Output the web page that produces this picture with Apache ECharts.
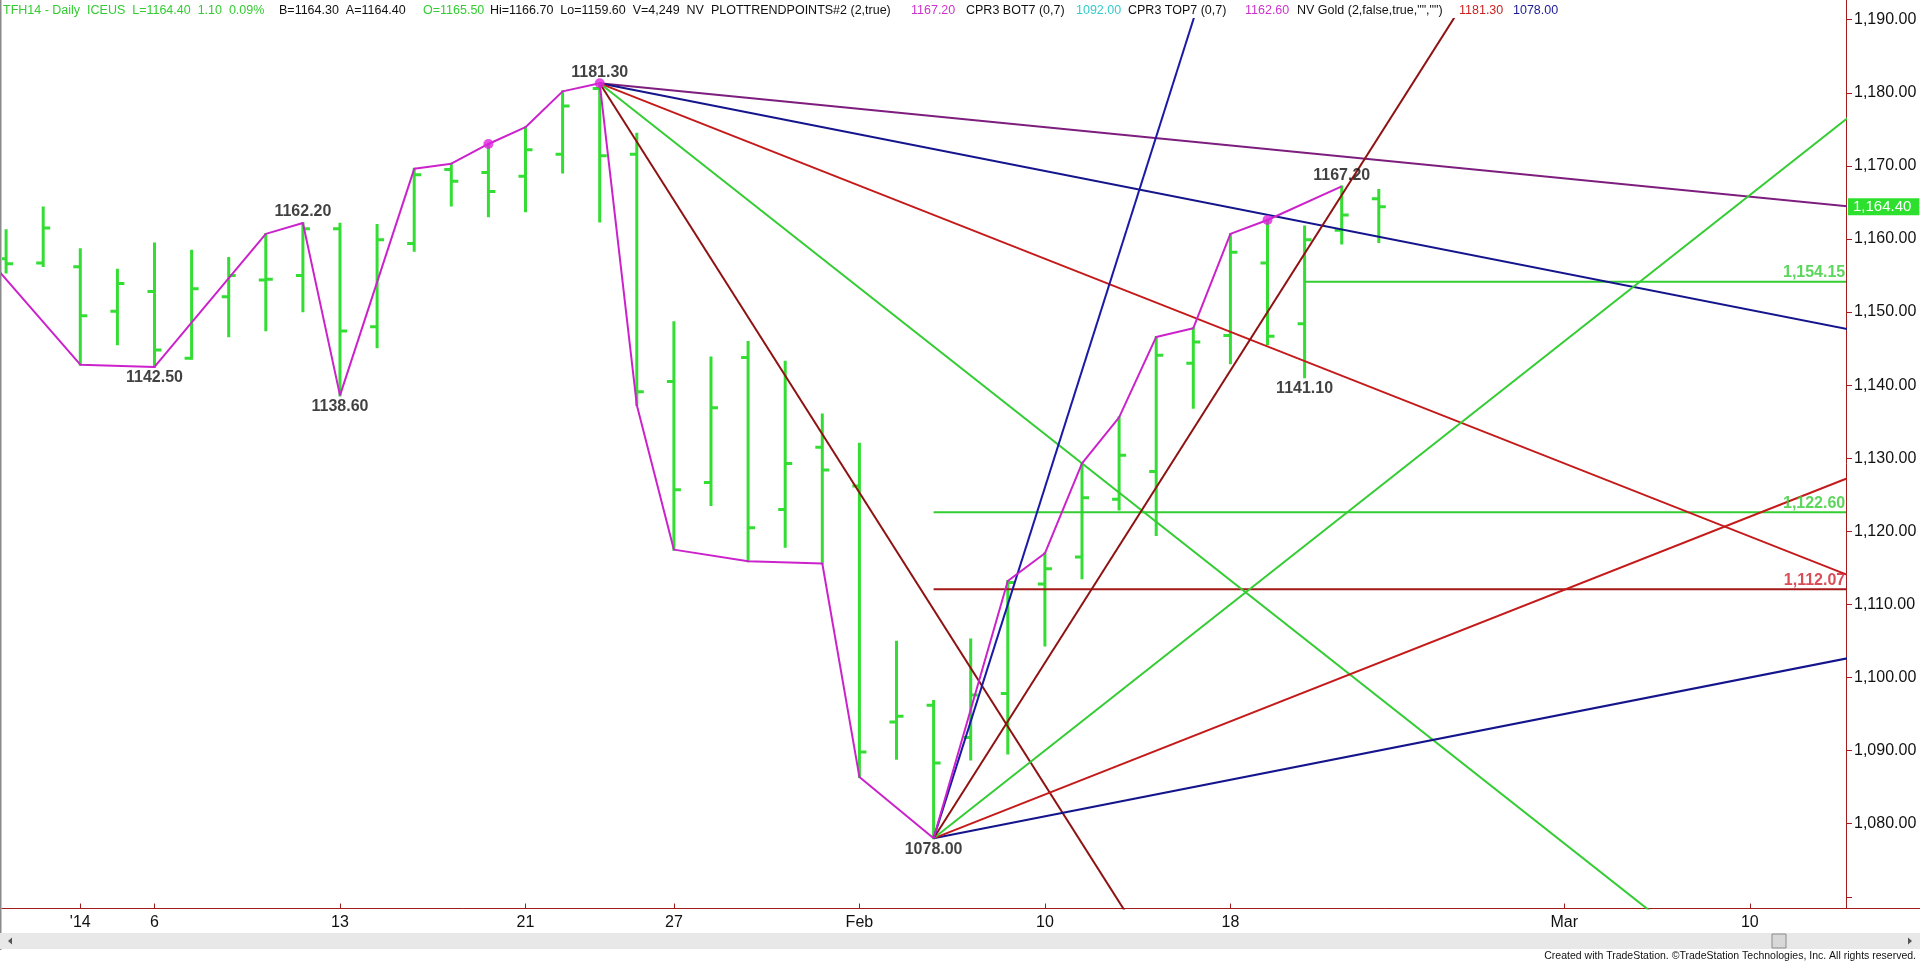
<!DOCTYPE html>
<html>
<head>
<meta charset="utf-8">
<script src="https://cdn.jsdelivr.net/npm/echarts@6/dist/echarts.min.js"></script>
<style>
html,body{margin:0;padding:0;background:#fff;}
#c{width:1920px;height:964px;}
</style>
</head>
<body>
<div id="c"></div>
<script>
// ---------------- DATA ----------------
const dates = ['Dec 30','Dec 31','Jan 2','Jan 3','Jan 6','Jan 7','Jan 8','Jan 9','Jan 10','Jan 13',
  'Jan 14','Jan 15','Jan 16','Jan 17','Jan 21','Jan 22','Jan 23','Jan 24','Jan 27','Jan 28',
  'Jan 29','Jan 30','Jan 31','Feb 3','Feb 4','Feb 5','Feb 6','Feb 7','Feb 10','Feb 11',
  'Feb 12','Feb 13','Feb 14','Feb 18','Feb 19','Feb 20','Feb 21','Feb 24'];
const opens  = [1157.3,1156.7,1156.2,1150.1,1152.8,1143.7,1152.1,1154.4,1155.0,1161.4,
  1148.0,1159.4,1169.5,1169.1,1168.6,1171.6,1180.6,1171.6,1140.5,1126.7,
  1143.8,1123.0,1131.5,1126.2,1093.9,1096.2,1091.8,1097.8,1112.8,1116.5,
  1124.4,1128.2,1143.0,1146.8,1156.7,1148.4,1161.2,1165.5];
const highs  = [1161.2,1164.3,1158.6,1155.8,1159.4,1158.4,1157.4,1160.7,1162.2,1162.1,
  1161.9,1169.6,1170.3,1173.0,1175.3,1180.2,1181.3,1174.4,1148.6,1143.8,
  1145.9,1143.2,1136.0,1132.0,1104.9,1096.8,1105.2,1113.2,1117.0,1129.3,
  1135.6,1146.6,1147.8,1160.7,1162.6,1161.7,1167.2,1166.7];
const lows   = [1155.4,1156.3,1142.8,1145.6,1142.5,1143.6,1146.7,1147.5,1150.1,1138.6,
  1145.2,1158.4,1164.6,1163.1,1163.8,1169.1,1162.4,1137.3,1117.5,1123.6,
  1115.9,1117.9,1115.6,1086.4,1088.9,1078.0,1088.8,1089.6,1104.4,1113.6,
  1123.0,1119.5,1136.9,1143.0,1145.6,1141.1,1159.4,1159.6];
const closes = [1156.6,1161.5,1149.5,1153.9,1144.8,1153.2,1155.0,1154.5,1161.4,1147.4,
  1159.9,1168.8,1167.9,1166.5,1172.2,1178.2,1171.4,1139.1,1125.7,1136.9,
  1120.5,1129.3,1128.4,1089.8,1094.7,1088.3,1097.6,1113.0,1114.9,1124.6,
  1130.4,1144.1,1145.9,1158.2,1146.7,1159.9,1163.3,1164.4];

// x-axis tick labels (trading-day index -> label)
const xTickIdx    = [2, 4, 9, 14, 18, 23, 28, 33, 42, 47];
const xTickLabels = ["'14", '6', '13', '21', '27', 'Feb', '10', '18', 'Mar', '10'];
// y-axis ticks / labels
const yTickValues  = [1070,1080,1090,1100,1110,1120,1130,1140,1150,1160,1170,1180,1190];
const yLabelValues = [1080,1090,1100,1110,1120,1130,1140,1150,1160,1170,1180,1190];

// swing line (NV Gold) vertices
const swingIdx = [-1, 2, 4, 7, 8, 9, 11, 12, 13, 14, 15, 16, 17, 18, 20, 22, 23, 25, 27, 28, 29, 30, 31, 32, 33, 34, 36];
const swingVal = [1160.3,1142.8,1142.5,1160.7,1162.2,1138.6,1169.6,1170.3,1173.0,1175.3,1180.2,1181.3,1137.3,1117.5,
  1115.9,1115.6,1086.4,1078.0,1113.2,1117.0,1129.3,1135.6,1146.6,1147.8,1160.7,1162.6,1167.2];
// CPR pivot dots
const dotIdx = [13, 16, 34];
const dotVal = [1173.0, 1181.3, 1162.6];
// labelled swing points
const swingLabelIdx = [16, 8, 4, 9, 25, 36, 35];
const swingLabelVal = [1181.30, 1162.20, 1142.50, 1138.60, 1078.00, 1167.20, 1141.10];

// Gann fan from the 1181.30 top (index 16) and the 1078.00 bottom (index 25)
const topAnchor = [16, 1181.3];
const bottomAnchor = [25, 1078.0];
const fanEndIdx = 60;
const fanDownEnds = [1159.3, 1137.3, 1093.3, 1005.3, 829.3];   // 1x2, 1x1, 2x1, 4x1, 8x1
const fanUpEnds   = [1113.0, 1148.0, 1218.0, 1358.0, 1638.0];  // 1x1, 2x1, 4x1, 8x1, 16x1

// horizontal levels
const levelValues = [1154.15, 1122.60, 1112.07];
const levelStart  = [35, 25, 25];

const lastClose = 1164.40;

// ---------------- STYLE ----------------
const FONT = '"Liberation Sans", Arial, sans-serif';
const BAR_GREEN = '#33dd33';
const LINE_GREEN = '#33cc33';
const AXIS_RED = '#a31c1c';
const X_MIN = -0.1105, X_MAX = 49.593;
const Y_MIN = 1068.4, Y_MAX = 1190.1;
const fanDownColors = ['#7d1d7d', '#14148c', '#c41a1a', LINE_GREEN, '#8e1212'];
const fanUpColors   = ['#14148c', '#c41a1a', LINE_GREEN, '#8e1212', '#1a1aa6'];
const levelColors   = [LINE_GREEN, LINE_GREEN, '#a51818'];
const levelLabelColors = [LINE_GREEN, LINE_GREEN, '#d0202c'];

function fmt(v) { return v.toFixed(2).replace(/\B(?=(\d{3})+(?!\d))/g, ','); }

const barData = dates.map((d, i) => [i, opens[i], highs[i], lows[i], closes[i]]);

const series = [];

// OHLC bars
series.push({
  type: 'custom', name: 'TFH14', z: 2, clip: true,
  data: barData,
  encode: { x: 0, y: [1, 2, 3, 4] },
  renderItem: function (params, api) {
    const x = api.value(0);
    const o = api.coord([x, api.value(1)]);
    const h = api.coord([x, api.value(2)]);
    const l = api.coord([x, api.value(3)]);
    const c = api.coord([x, api.value(4)]);
    const st = { stroke: BAR_GREEN, lineWidth: 3 };
    return { type: 'group', children: [
      { type: 'line', shape: { x1: h[0], y1: h[1] - 1, x2: l[0], y2: l[1] + 1 }, style: st },
      { type: 'line', shape: { x1: o[0] - 7, y1: o[1], x2: o[0], y2: o[1] }, style: st },
      { type: 'line', shape: { x1: c[0], y1: c[1], x2: c[0] + 7, y2: c[1] }, style: st }
    ]};
  }
});

// horizontal levels
levelValues.forEach((v, k) => {
  series.push({
    type: 'line', z: 3, symbol: 'none', silent: true,
    lineStyle: { color: levelColors[k], width: 2 },
    data: [[levelStart[k], v], [X_MAX, v]]
  });
});
// level labels
series.push({
  type: 'scatter', z: 7, symbolSize: 0, silent: true, clip: false,
  data: levelValues.map((v, k) => ({
    value: [X_MAX - 0.02, v],
    label: { show: true, position: 'top', align: 'right', distance: 1,
      formatter: fmt(v), color: levelLabelColors[k],
      fontSize: 16, fontWeight: 'bold', fontFamily: FONT }
  }))
});

// Gann fans
fanDownEnds.forEach((v, k) => {
  series.push({ type: 'line', z: 4, symbol: 'none', silent: true,
    lineStyle: { color: fanDownColors[k], width: 2 },
    data: [topAnchor, [fanEndIdx, v]] });
});
fanUpEnds.forEach((v, k) => {
  series.push({ type: 'line', z: 4, symbol: 'none', silent: true,
    lineStyle: { color: fanUpColors[k], width: 2 },
    data: [bottomAnchor, [fanEndIdx, v]] });
});

// swing line
series.push({
  type: 'line', z: 5, symbol: 'none', silent: true,
  lineStyle: { color: '#cc22cc', width: 2 },
  data: swingIdx.map((x, i) => [x, swingVal[i]]),
  markLine: {
    silent: true, symbol: ['none', 'none'], animation: false,
    lineStyle: { color: 'rgba(0,0,0,0)', width: 1 },
    label: { show: true, position: 'end', distance: 2, formatter: fmt(lastClose),
      backgroundColor: '#2ee02e', color: '#ffffff', fontSize: 15, fontFamily: FONT,
      padding: [1, 8, 1, 5] },
    data: [{ yAxis: lastClose }]
  }
});

// pivot dots
series.push({
  type: 'scatter', z: 6, symbol: 'circle', symbolSize: 10, silent: true,
  itemStyle: { color: '#e022e0' },
  data: dotIdx.map((x, i) => [x, dotVal[i]])
});

// swing value labels
series.push({
  type: 'scatter', z: 7, symbolSize: 0, silent: true,
  data: swingLabelIdx.map((x, i) => {
    const isHigh = highs[x] === swingLabelVal[i];
    return { value: [x, swingLabelVal[i]], label: {
      show: true, position: isHigh ? 'top' : 'bottom', distance: 3,
      formatter: swingLabelVal[i].toFixed(2), color: '#111', fontSize: 16,
      fontWeight: 'bold', fontFamily: FONT } };
  })
});

// header pieces
const K = '#111', G = LINE_GREEN, M = '#cc33cc', C = '#33cccc', R = '#cc2222', B = '#1a1a99';
const headerItems = [
  ['TFH14 - Daily  ICEUS  L=1164.40  1.10  0.09%', 3, G],
  ['B=1164.30  A=1164.40', 279, K],
  ['O=1165.50', 423, G],
  ['Hi=1166.70  Lo=1159.60  V=4,249  NV  PLOTTRENDPOINTS#2 (2,true)', 490, K],
  ['1167.20', 911, M],
  ['CPR3 BOT7 (0,7)', 966, K],
  ['1092.00', 1076, C],
  ['CPR3 TOP7 (0,7)', 1128, K],
  ['1162.60', 1245, M],
  ['NV Gold (2,false,true,"","")', 1297, K],
  ['1181.30', 1459, R],
  ['1078.00', 1513, B]
];
const graphic = headerItems.map(h => ({
  type: 'text', left: h[1], top: 4, silent: true,
  style: { text: h[0], fill: h[2], font: '12.5px ' + FONT }
}));
graphic.push(
  { type: 'line', silent: true, shape: { x1: 0.5, y1: 0, x2: 0.5, y2: 950 }, style: { stroke: '#8a8a8a', lineWidth: 2 } },
  { type: 'line', silent: true, shape: { x1: 1846.5, y1: 0, x2: 1846.5, y2: 20 }, style: { stroke: AXIS_RED, lineWidth: 1 } },
  { type: 'line', silent: true, shape: { x1: 1846, y1: 908.5, x2: 1920, y2: 908.5 }, style: { stroke: AXIS_RED, lineWidth: 1 } },
  { type: 'rect', silent: true, shape: { x: 0, y: 933, width: 1920, height: 16 }, style: { fill: '#e8e8e8' } },
  { type: 'polygon', silent: true, shape: { points: [[8, 941], [12, 937.5], [12, 944.5]] }, style: { fill: '#555' } },
  { type: 'polygon', silent: true, shape: { points: [[1912, 941], [1908, 937.5], [1908, 944.5]] }, style: { fill: '#555' } },
  { type: 'rect', silent: true, shape: { x: 1772, y: 934, width: 14, height: 14 }, style: { fill: '#d8d8d8', stroke: '#8c8c8c', lineWidth: 1 } },
  { type: 'text', silent: true, right: 4, top: 951,
    style: { text: 'Created with TradeStation. \u00A9TradeStation Technologies, Inc. All rights reserved.', fill: '#111', font: '10.5px ' + FONT } }
);

const chart = echarts.init(document.getElementById('c'), null, { renderer: 'canvas' });
chart.setOption({
  animation: false,
  backgroundColor: '#ffffff',
  grid: { left: 2, right: 74, top: 19, bottom: 55.5, containLabel: false },
  xAxis: {
    type: 'value', min: X_MIN, max: X_MAX,
    splitLine: { show: false },
    axisLine: { show: true, onZero: false, lineStyle: { color: AXIS_RED, width: 1 } },
    axisTick: { show: true, inside: true, length: 5, customValues: xTickIdx, lineStyle: { color: AXIS_RED } },
    axisLabel: {
      customValues: xTickIdx, margin: 6, fontSize: 16, color: '#111', fontFamily: FONT,
      formatter: function (v) { const k = xTickIdx.indexOf(Math.round(v)); return k >= 0 ? xTickLabels[k] : ''; }
    }
  },
  yAxis: {
    type: 'value', position: 'right', min: Y_MIN, max: Y_MAX,
    splitLine: { show: false },
    axisLine: { show: true, onZero: false, lineStyle: { color: AXIS_RED, width: 1 } },
    axisTick: { show: true, inside: false, length: 6, customValues: yTickValues, lineStyle: { color: AXIS_RED } },
    axisLabel: {
      customValues: yLabelValues, margin: 8, fontSize: 16, color: '#111', fontFamily: FONT,
      formatter: function (v) { return fmt(Math.round(v)); }
    }
  },
  series: series,
  graphic: graphic
});
</script>
</body>
</html>
